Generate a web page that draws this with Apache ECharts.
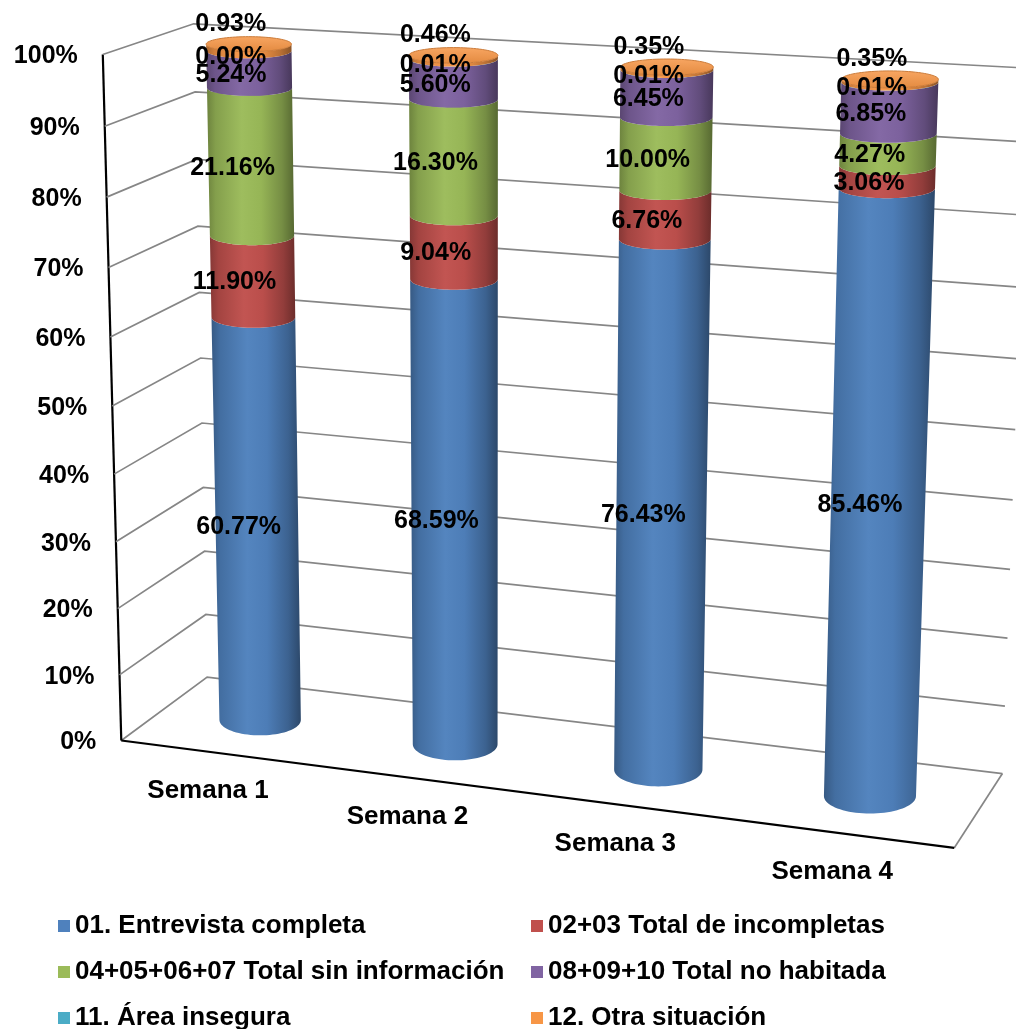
<!DOCTYPE html>
<html>
<head>
<meta charset="utf-8">
<script src="https://cdn.jsdelivr.net/npm/echarts@6/dist/echarts.min.js"></script>
<style>
  html, body { margin: 0; padding: 0; background: #ffffff; }
  #chart { width: 1016px; height: 1029px; }
</style>
</head>
<body>
<div id="chart"></div>
<script>
// ---- data ----
const categories = ['Semana 1', 'Semana 2', 'Semana 3', 'Semana 4'];
const seriesNames = [
  '01. Entrevista completa',
  '02+03 Total de incompletas',
  '04+05+06+07 Total sin información',
  '08+09+10 Total no habitada',
  '11. Área insegura',
  '12. Otra situación'
];
const entrevistaCompleta  = [60.77, 68.59, 76.43, 85.46];
const totalIncompletas    = [11.90,  9.04,  6.76,  3.06];
const totalSinInformacion = [21.16, 16.30, 10.00,  4.27];
const totalNoHabitada     = [ 5.24,  5.60,  6.45,  6.85];
const areaInsegura        = [ 0.00,  0.01,  0.01,  0.01];
const otraSituacion       = [ 0.93,  0.46,  0.35,  0.35];
const yTicks = [0, 10, 20, 30, 40, 50, 60, 70, 80, 90, 100];
const tickLabels = yTicks.map(v => v + '%');

const seriesValues = [entrevistaCompleta, totalIncompletas, totalSinInformacion,
                      totalNoHabitada, areaInsegura, otraSituacion];
const seriesColors = ['#4F81BD', '#C0504D', '#9BBB59', '#8064A2', '#4BACC6', '#F79646'];

// ---- 3D frame layout (x along categories, value, depth 0 = front, 1 = back) ----
const X_MIN = -0.5, X_MAX = 3.5;
const FRAME_POINTS = [
  // x,    value, depth, screenX, screenY
  [X_MIN,   0, 0,  126, 741.5],
  [X_MAX,   0, 0,  953, 848],
  [X_MAX,   0, 1, 1003, 772.5],
  [X_MIN,   0, 1,  202, 676],
  [X_MIN, 100, 0,  100, 53],
  [X_MIN, 100, 1,  198, 25],
  [X_MAX, 100, 1, 1028, 68],
  [X_MIN,  50, 0,  113, 406.5],
  [X_MIN,  90, 0,  103, 126],
  [X_MAX,  50, 1, 1015.5, 430],
  [X_MAX,  10, 1, 1006, 707]
];
const BAR_DEPTH = 0.5;      // depth of bar axes
const BAR_RADIUS_X = 0.213; // cylinder radius, category units
const BAR_RADIUS_D = 0.24;  // cylinder radius, depth units
const FONT = '"Liberation Sans", Arial, Helvetica, sans-serif';

// ---- projective camera fitted to the frame corners ----
let camera = null;

function solveNormal(rows, rhs) {
  const n = rows[0].length;
  const M = [];
  for (let i = 0; i < n; i++) M.push(new Array(n + 1).fill(0));
  rows.forEach((r, k) => {
    for (let i = 0; i < n; i++) {
      for (let j = 0; j < n; j++) M[i][j] += r[i] * r[j];
      M[i][n] += r[i] * rhs[k];
    }
  });
  for (let c = 0; c < n; c++) {
    let piv = c;
    for (let r = c + 1; r < n; r++) if (Math.abs(M[r][c]) > Math.abs(M[piv][c])) piv = r;
    const tmp = M[c]; M[c] = M[piv]; M[piv] = tmp;
    for (let r = 0; r < n; r++) {
      if (r === c) continue;
      const f = M[r][c] / M[c][c];
      for (let j = c; j <= n; j++) M[r][j] -= f * M[c][j];
    }
  }
  return M.map((row, i) => row[n] / row[i]);
}

// grid pixel position of a data point, normalised to the plot box
function planePos(api, x, v) {
  const p = api.coord([x, v]);
  const tl = api.coord([X_MIN, 100]);
  const br = api.coord([X_MAX, 0]);
  return [(p[0] - tl[0]) / (br[0] - tl[0]), (p[1] - tl[1]) / (br[1] - tl[1])];
}

function getCamera(api) {
  if (camera) return camera;
  const rows = [], rhs = [];
  FRAME_POINTS.forEach(([x, v, d, sx, sy]) => {
    const [X, Y] = planePos(api, x, v);
    const u = sx / 1000, w = sy / 1000;
    rows.push([X, Y, d, 1, 0, 0, 0, 0, -u * X, -u * Y, -u * d]); rhs.push(u);
    rows.push([0, 0, 0, 0, X, Y, d, 1, -w * X, -w * Y, -w * d]); rhs.push(w);
  });
  camera = solveNormal(rows, rhs);
  return camera;
}

function proj(api, x, v, d) {
  const p = getCamera(api);
  const [X, Y] = planePos(api, x, v);
  const den = p[8] * X + p[9] * Y + p[10] * d + 1;
  return [
    1000 * (p[0] * X + p[1] * Y + p[2] * d + p[3]) / den,
    1000 * (p[4] * X + p[5] * Y + p[6] * d + p[7]) / den
  ];
}

// horizontal cross-section of a cylinder at a given value
function section(api, i, v) {
  const l = proj(api, i - BAR_RADIUS_X, v, BAR_DEPTH);
  const r = proj(api, i + BAR_RADIUS_X, v, BAR_DEPTH);
  const c = proj(api, i, v, BAR_DEPTH);
  const f = proj(api, i, v, BAR_DEPTH - BAR_RADIUS_D);
  const b = proj(api, i, v, BAR_DEPTH + BAR_RADIUS_D);
  return { cx: (l[0] + r[0]) / 2, cy: c[1], rx: (r[0] - l[0]) / 2, ry: Math.abs(f[1] - b[1]) / 2 };
}

function arc(e, from, to, n) {
  const pts = [];
  for (let t = 0; t <= n; t++) {
    const a = from + (to - from) * t / n;
    pts.push([e.cx + e.rx * Math.cos(a), e.cy + e.ry * Math.sin(a)]);
  }
  return pts;
}

function shade(hex, amt) {
  const n = parseInt(hex.slice(1), 16);
  let r = (n >> 16) & 255, g = (n >> 8) & 255, b = n & 255;
  const t = amt < 0 ? 0 : 255, k = Math.abs(amt);
  r = Math.round(r + (t - r) * k); g = Math.round(g + (t - g) * k); b = Math.round(b + (t - b) * k);
  return 'rgb(' + r + ',' + g + ',' + b + ')';
}

function bodyFill(color) {
  return {
    type: 'linear', x: 0, y: 0, x2: 1, y2: 0,
    colorStops: [
      { offset: 0.00, color: shade(color, -0.30) },
      { offset: 0.10, color: shade(color, -0.15) },
      { offset: 0.40, color: shade(color, 0.03) },
      { offset: 0.62, color: shade(color, -0.03) },
      { offset: 0.86, color: shade(color, -0.24) },
      { offset: 1.00, color: shade(color, -0.44) }
    ]
  };
}

// ---- stacked extents ----
const stackStart = seriesValues.map(() => []);
const stackEnd = seriesValues.map(() => []);
categories.forEach((c, i) => {
  let acc = 0;
  seriesValues.forEach((vals, k) => {
    stackStart[k][i] = acc;
    acc += vals[i];
    stackEnd[k][i] = acc;
  });
});
const totals = categories.map((c, i) => stackEnd[seriesValues.length - 1][i]);

// ---- series ----
const wallSeries = {
  type: 'custom',
  name: 'walls',
  coordinateSystem: 'cartesian2d',
  silent: true,
  clip: false,
  z: 1,
  data: yTicks.map((v, idx) => [X_MIN, v, idx]),
  encode: { x: 0, y: 1 },
  renderItem: function (params, api) {
    const v = api.value(1);
    const idx = api.value(2);
    const a = proj(api, X_MIN, v, 0);
    const b = proj(api, X_MIN, v, 1);
    const c = proj(api, X_MAX, v, 1);
    const children = [
      { type: 'polyline', shape: { points: [a, b, c] },
        style: { stroke: '#868686', lineWidth: 1.7, fill: null } },
      { type: 'text',
        style: { text: tickLabels[idx], x: a[0] - 25, y: a[1] + 2,
                 textAlign: 'right', textVerticalAlign: 'middle',
                 fontFamily: FONT, fontWeight: 'bold', fontSize: 25, fill: '#000' } }
    ];
    if (v === 0) {
      const fr = proj(api, X_MAX, 0, 0);
      const top = proj(api, X_MIN, 100, 0);
      children.push(
        { type: 'line', shape: { x1: fr[0], y1: fr[1], x2: c[0], y2: c[1] },
          style: { stroke: '#868686', lineWidth: 1.7 } },
        { type: 'line', shape: { x1: a[0], y1: a[1], x2: fr[0], y2: fr[1] },
          style: { stroke: '#000', lineWidth: 2.2 } },
        { type: 'line', shape: { x1: a[0], y1: a[1], x2: top[0], y2: top[1] },
          style: { stroke: '#000', lineWidth: 2.2 } }
      );
    }
    return { type: 'group', children: children };
  }
};

const categorySeries = {
  type: 'custom',
  name: 'categories',
  coordinateSystem: 'cartesian2d',
  silent: true,
  clip: false,
  z: 1,
  data: categories.map((c, i) => [i, 0]),
  encode: { x: 0, y: 1 },
  renderItem: function (params, api) {
    const i = api.value(0);
    const p = proj(api, i, 0, 0);
    return { type: 'text',
      style: { text: categories[params.dataIndex], x: p[0] - 10, y: p[1] + 38,
               textAlign: 'center', textVerticalAlign: 'middle',
               fontFamily: FONT, fontWeight: 'bold', fontSize: 26, fill: '#000' } };
  }
};

const lastK = seriesValues.length - 1;
const barSeries = seriesValues.map((vals, k) => ({
  type: 'custom',
  name: seriesNames[k],
  coordinateSystem: 'cartesian2d',
  silent: true,
  clip: false,
  z: 2,
  itemStyle: { color: seriesColors[k] },
  data: categories.map((c, i) => [i, stackStart[k][i], stackEnd[k][i], vals[i]]),
  encode: { x: 0, y: [1, 2] },
  renderItem: function (params, api) {
    const i = api.value(0);
    const v0 = api.value(1), v1 = api.value(2);
    const lo = section(api, i, v0);
    const hi = section(api, i, v1);
    const pts = arc(hi, Math.PI, 0, 40).concat(arc(lo, 0, Math.PI, 40));
    const children = [
      { type: 'polygon', shape: { points: pts }, style: { fill: bodyFill(seriesColors[k]) } }
    ];
    if (k === lastK) {
      const capPts = arc(hi, 0, Math.PI * 2, 80);
      children.push({
        type: 'polygon', shape: { points: capPts },
        style: {
          fill: { type: 'linear', x: 0, y: 0, x2: 0, y2: 1,
                  colorStops: [{ offset: 0, color: shade(seriesColors[k], 0.15) },
                               { offset: 1, color: shade(seriesColors[k], -0.08) }] },
          stroke: shade(seriesColors[k], -0.18), lineWidth: 1
        }
      });
    }
    return { type: 'group', children: children };
  }
}));

const labelData = [];
seriesValues.forEach((vals, k) => {
  categories.forEach((c, i) => {
    labelData.push([i, (stackStart[k][i] + stackEnd[k][i]) / 2, totals[i], vals[i], k]);
  });
});

const labelSeries = {
  type: 'custom',
  name: 'labels',
  coordinateSystem: 'cartesian2d',
  silent: true,
  clip: false,
  z: 5,
  data: labelData,
  encode: { x: 0, y: 1 },
  renderItem: function (params, api) {
    const i = api.value(0), mid = api.value(1), top = api.value(2);
    const val = api.value(3), k = api.value(4);
    let x, y;
    if (k === lastK) {
      const s = section(api, i, top);
      x = s.cx - 18; y = s.cy - 20;
    } else {
      const p = proj(api, i, mid, BAR_DEPTH);
      x = p[0] - 18; y = p[1] + 6;
    }
    return { type: 'text',
      style: { text: val.toFixed(2) + '%', x: x, y: y,
               textAlign: 'center', textVerticalAlign: 'middle',
               fontFamily: FONT, fontWeight: 'bold', fontSize: 25, fill: '#000' } };
  }
};

// legend: two columns, three rows
const legendCells = [
  { left: 58, top: 911 }, { left: 531, top: 911 },
  { left: 58, top: 957 }, { left: 531, top: 957 },
  { left: 58, top: 1003 }, { left: 531, top: 1003 }
];
const legends = seriesNames.map((name, k) => ({
  left: legendCells[k].left,
  top: legendCells[k].top,
  orient: 'horizontal',
  padding: 0,
  itemWidth: 12,
  itemHeight: 12,
  icon: 'rect',
  selectedMode: false,
  data: [name],
  textStyle: { fontFamily: FONT, fontWeight: 'bold', fontSize: 26, color: '#000', lineHeight: 30 }
}));

const option = {
  animation: false,
  color: seriesColors,
  grid: { left: 0, top: 0, width: 1000, height: 1000, show: false },
  xAxis: { type: 'value', min: X_MIN, max: X_MAX, show: false },
  yAxis: { type: 'value', min: 0, max: 100, interval: 10, show: false },
  legend: legends,
  series: [wallSeries, categorySeries].concat(barSeries, [labelSeries])
};

const chart = echarts.init(document.getElementById('chart'), null, { renderer: 'canvas' });
chart.setOption(option);
</script>
</body>
</html>
